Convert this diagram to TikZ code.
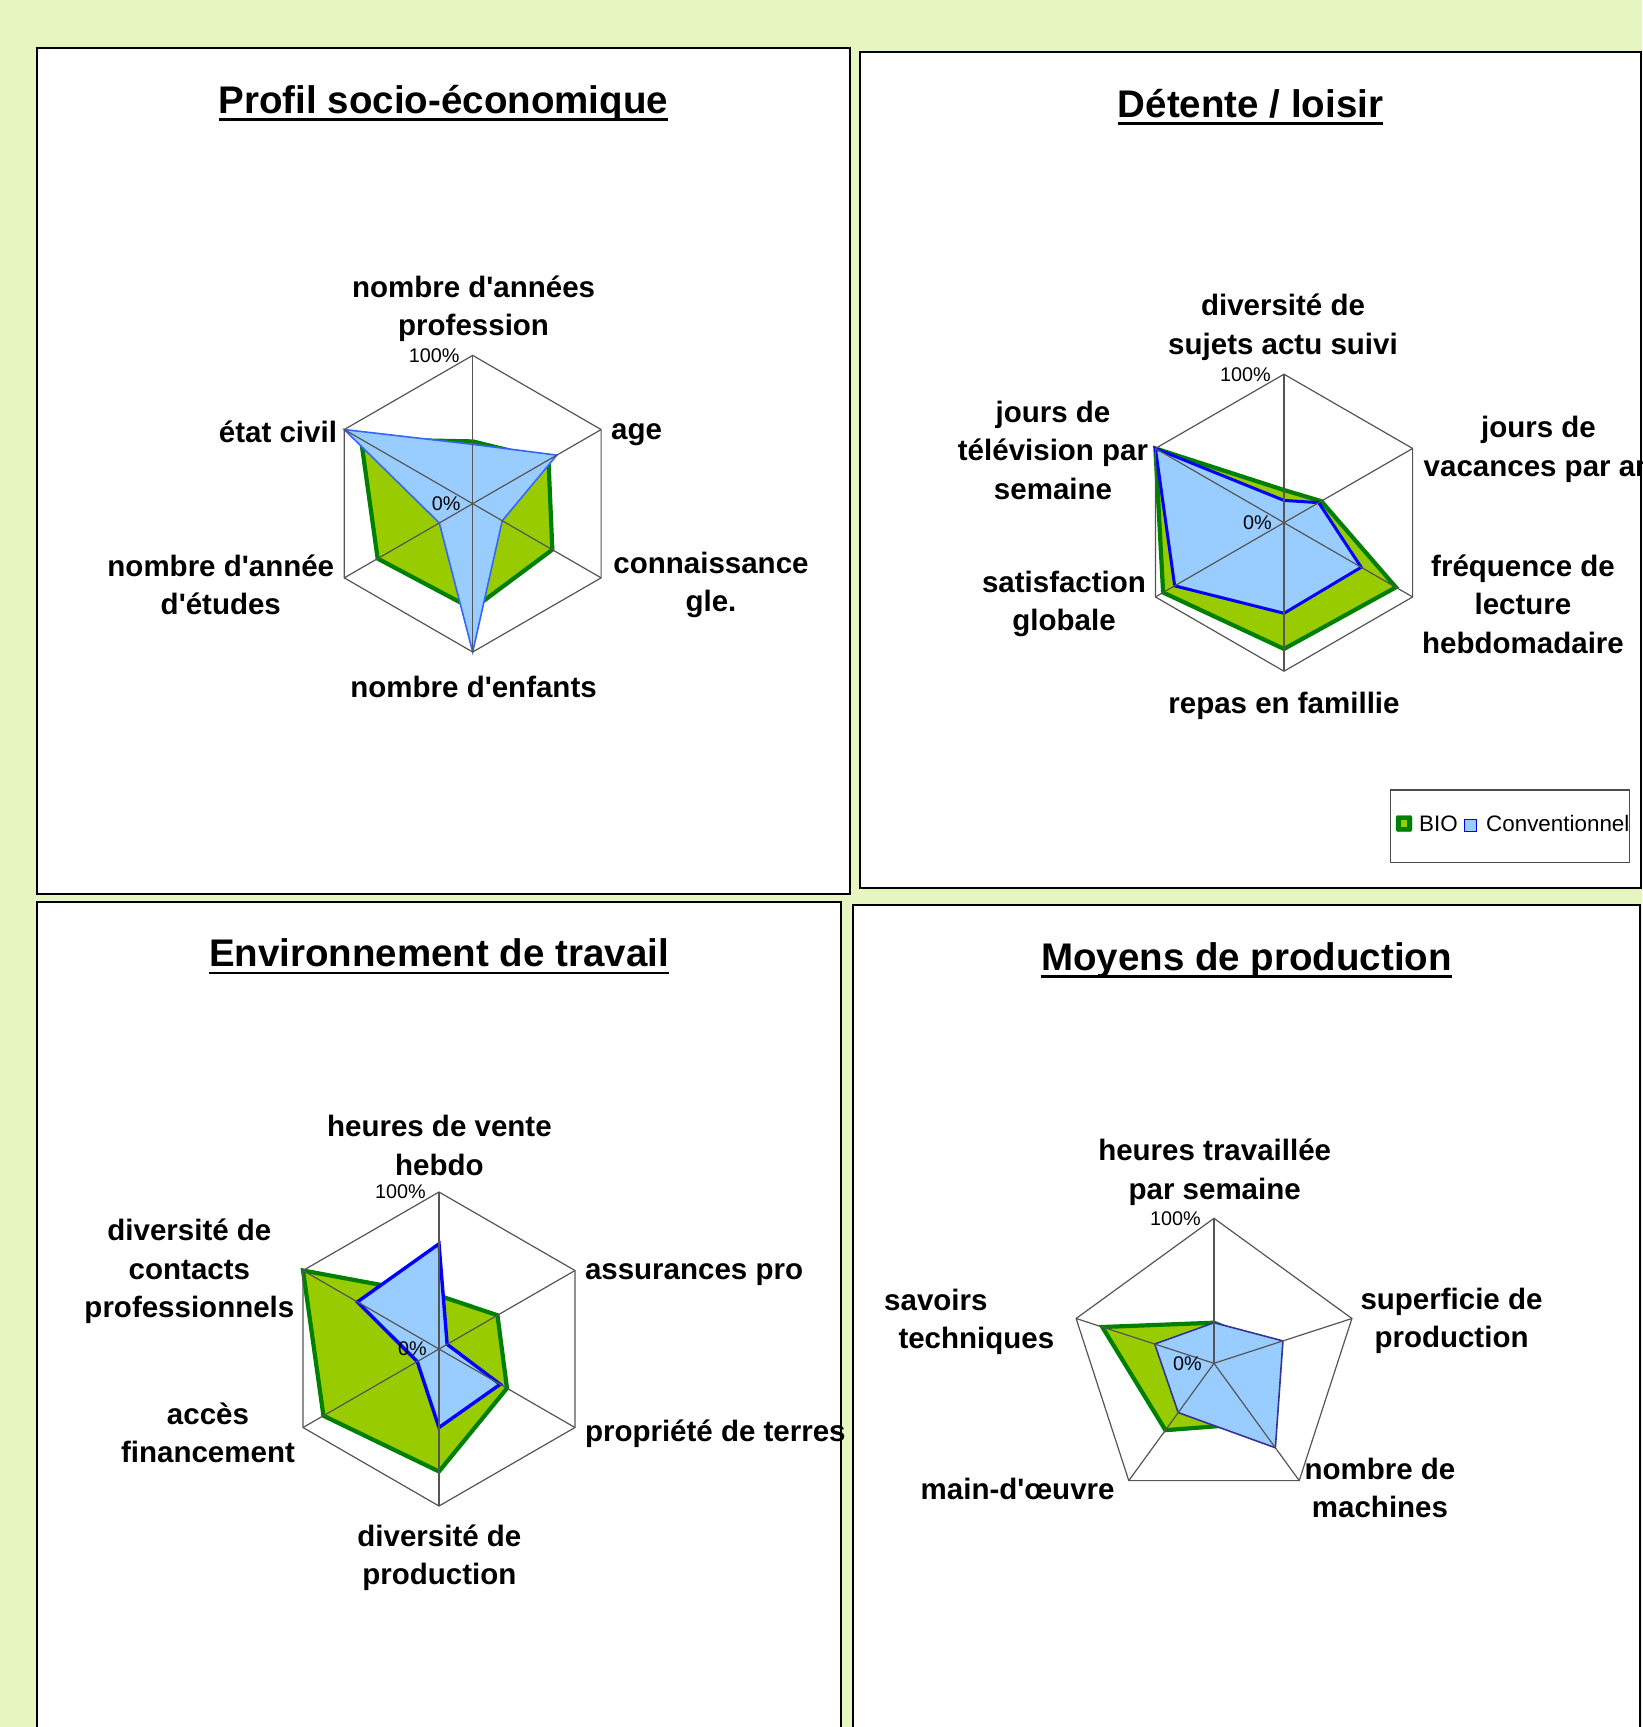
\documentclass[tikz,border=0pt]{standalone}
\usepackage{fontspec}
\setmainfont{Liberation Sans}[Ligatures=TeXOff]
\definecolor{bgc}{RGB}{231,245,193}
\definecolor{bioF}{HTML}{99CC00}
\definecolor{bioL}{HTML}{008000}
\definecolor{convF}{HTML}{99CCFF}
\definecolor{convA}{HTML}{3366FF}
\definecolor{convB}{HTML}{0000FF}
\definecolor{convC}{HTML}{333399}
\definecolor{gridc}{RGB}{85,85,85}
\tikzset{
  lab/.style={font=\fontsize{29.5}{38.5}\selectfont\bfseries, align=center, inner sep=0pt, yshift=-3pt},
  pct/.style={font=\fontsize{19.8}{22}\selectfont, inner sep=0pt, anchor=east},
  ttl/.style={font=\fontsize{38.5}{45}\selectfont\bfseries, inner sep=0pt, anchor=base},
  uline/.style={line width=2.5pt, black},
  panel/.style={draw=black, line width=2pt, fill=white},
  gridline/.style={draw=gridc, line width=1.2pt},
  bio/.style={fill=bioF, draw=bioL, line width=4.2pt, line join=miter},
  convthin/.style={fill=convF, draw=convA, line width=1.6pt, line join=miter},
  convthick/.style={fill=convF, draw=convB, line width=3pt, line join=miter},
  convdark/.style={fill=convF, draw=convC, line width=1.6pt, line join=miter},
  legtxt/.style={font=\fontsize{22.4}{26}\selectfont, inner sep=0pt, anchor=west}
}
\begin{document}
\begin{tikzpicture}[x=1pt,y=-1pt]
\useasboundingbox (0,0) rectangle (1642,1727);
\clip (0,0) rectangle (1642,1727);
\fill[bgc] (0,0) rectangle (1642,1727);

% panels
\draw[panel] (36.7,48.3) rectangle (850,894);
\draw[panel] (860,52.3) rectangle (1641,888.3);
\draw[panel] (36.7,901.7) rectangle (841.3,1760);
\draw[panel] (853,905.3) rectangle (1640,1760);

% titles
\node[ttl] (t1) at (443.4,113.5) {Profil socio-économique};
\draw[uline] ([yshift=-6pt]t1.base west) -- ([yshift=-6pt]t1.base east);
\node[ttl] (t2) at (1250.5,117.5) {Détente / loisir};
\draw[uline] ([yshift=-6pt]t2.base west) -- ([yshift=-6pt]t2.base east);
\node[ttl] (t3) at (439,966.9) {Environnement de travail};
\draw[uline] ([yshift=-6pt]t3.base west) -- ([yshift=-6pt]t3.base east);
\node[ttl] (t4) at (1246.5,970.7) {Moyens de production};
\draw[uline] ([yshift=-6pt]t4.base west) -- ([yshift=-6pt]t4.base east);

% ---------- Chart 1 ----------
\begin{scope}[shift={(472.7,503.7)}]
\def\R{148.3}
\coordinate (c1) at (0,0);
\draw[bio] (-90:0.42*\R) -- (-30:0.59*\R) -- (30:0.62*\R) -- (90:0.71*\R) -- (150:0.74*\R) -- (210:0.87*\R) -- cycle;
\draw[convthin] (-90:0.40*\R) -- (-30:0.655*\R) -- (30:0.23*\R) -- (90:1.0*\R) -- (150:0.26*\R) -- (210:1.0*\R) -- cycle;
\foreach \k in {0,...,5} \draw[gridline] (c1) -- (-90+60*\k:\R);
\draw[gridline] (-90:\R) -- (-30:\R) -- (30:\R) -- (90:\R) -- (150:\R) -- (210:\R) -- cycle;
\node[pct] (c1zero) at (-12,0) {0\%};
\node[pct] (c1max) at (-13,-\R) {100\%};
\end{scope}
\node[lab] (c1a) at (473.6,305.6) {nombre d'années\\profession};
\node[lab,anchor=west] (c1b) at (611,432) {age};
\node[lab] (c1c) at (711,582) {connaissance\\gle.};
\node[lab] (c1d) at (473.6,683.9) {nombre d'enfants};
\node[lab] (c1e) at (220.8,582) {nombre d'année\\d'études};
\node[lab] (c1f) at (278,428.4) {état civil};

% ---------- Chart 2 ----------
\begin{scope}[shift={(1284,522.7)}]
\def\R{148.5}
\coordinate (c2) at (0,0);
\draw[bio] (-90:0.22*\R) -- (-30:0.29*\R) -- (30:0.87*\R) -- (90:0.85*\R) -- (150:0.94*\R) -- (210:1.0*\R) -- cycle;
\draw[convthick] (-90:0.15*\R) -- (-30:0.27*\R) -- (30:0.60*\R) -- (90:0.61*\R) -- (150:0.85*\R) -- (210:1.0*\R) -- cycle;
\foreach \k in {0,...,5} \draw[gridline] (c2) -- (-90+60*\k:\R);
\draw[gridline] (-90:\R) -- (-30:\R) -- (30:\R) -- (90:\R) -- (150:\R) -- (210:\R) -- cycle;
\node[pct] (c2zero) at (-12,0) {0\%};
\node[pct] (c2max) at (-13,-\R) {100\%};
\end{scope}
\node[lab] (c2a) at (1283,324.3) {diversité de\\sujets actu suivi};
\node[lab] (c2b) at (1538.5,446.6) {jours de\\vacances par an};
\node[lab] (c2c) at (1523,601.3) {fréquence de\\lecture\\hebdomadaire};
\node[lab] (c2d) at (1284,702.6) {repas en famillie};
\node[lab] (c2e) at (1064,600.8) {satisfaction\\globale};
\node[lab] (c2f) at (1053,447.1) {jours de\\télévision par\\semaine};

% legend
\draw[draw=black!70, line width=1.3pt, fill=white] (1390.5,790) rectangle (1629.5,862.7);
\node[draw=bioL, fill=bioL, rounded corners=2pt, minimum size=16pt, inner sep=0pt] (lgbio) at (1404,823.5) {};
\fill[bioF] (1400.7,819.5) rectangle (1407.3,827);
\node[legtxt] (lgbiot) at (1419,823.5) {BIO};
\node[draw=convB, fill=convF, line width=1.5pt, minimum size=12pt, inner sep=0pt] (lgconv) at (1470.6,825.6) {};
\node[legtxt] (lgconvt) at (1486,823.5) {Conventionnel};

% ---------- Chart 3 ----------
\begin{scope}[shift={(439,1349)}]
\def\R{157}
\coordinate (c3) at (0,0);
\draw[bio] (-90:0.34*\R) -- (-30:0.43*\R) -- (30:0.50*\R) -- (90:0.78*\R) -- (150:0.85*\R) -- (210:1.0*\R) -- cycle;
\draw[convthick, line width=3.4pt] (-90:0.67*\R) -- (-30:0.06*\R) -- (30:0.45*\R) -- (90:0.50*\R) -- (150:0.16*\R) -- (210:0.60*\R) -- cycle;
\foreach \k in {0,...,5} \draw[gridline] (c3) -- (-90+60*\k:\R);
\draw[gridline] (-90:\R) -- (-30:\R) -- (30:\R) -- (90:\R) -- (150:\R) -- (210:\R) -- cycle;
\node[pct] (c3zero) at (-12,0) {0\%};
\node[pct] (c3max) at (-13,-\R) {100\%};
\end{scope}
\node[lab] (c3a) at (439.4,1142.6) {heures de vente\\hebdo};
\node[lab,anchor=west] (c3b) at (584.8,1271.5) {assurances pro};
\node[lab,anchor=west] (c3c) at (584.8,1430.6) {propriété de terres};
\node[lab] (c3d) at (439.4,1554.5) {diversité de\\production};
\node[lab] (c3e) at (208,1430) {accès\\financement};
\node[lab] (c3f) at (189.4,1268.7) {diversité de\\contacts\\professionnels};

% ---------- Chart 4 ----------
\begin{scope}[shift={(1214,1363.3)}]
\def\R{145}
\coordinate (c4) at (0,0);
\draw[bio] (-90:0.28*\R) -- (-18:0.40*\R) -- (54:0.51*\R) -- (126:0.57*\R) -- (198:0.81*\R) -- cycle;
\draw[convdark] (-90:0.28*\R) -- (-18:0.50*\R) -- (54:0.72*\R) -- (126:0.42*\R) -- (198:0.43*\R) -- cycle;
\foreach \k in {0,...,4} \draw[gridline] (c4) -- (-90+72*\k:\R);
\draw[gridline] (-90:\R) -- (-18:\R) -- (54:\R) -- (126:\R) -- (198:\R) -- cycle;
\node[pct] (c4zero) at (-12,0) {0\%};
\node[pct] (c4max) at (-13,-\R) {100\%};
\end{scope}
\node[lab] (c4a) at (1214.7,1169) {heures travaillée\\par semaine};
\node[lab] (c4b) at (1451.5,1317.7) {superficie de\\production};
\node[lab] (c4c) at (1380,1485.1) {nombre de\\machines};
\node[lab] (c4d) at (1017.6,1485.7) {main-d'œuvre};
\node[lab,align=left,anchor=west] (c4e) at (884,1319) {savoirs\\\hspace*{14.3pt}techniques};
\end{tikzpicture}
\end{document}
